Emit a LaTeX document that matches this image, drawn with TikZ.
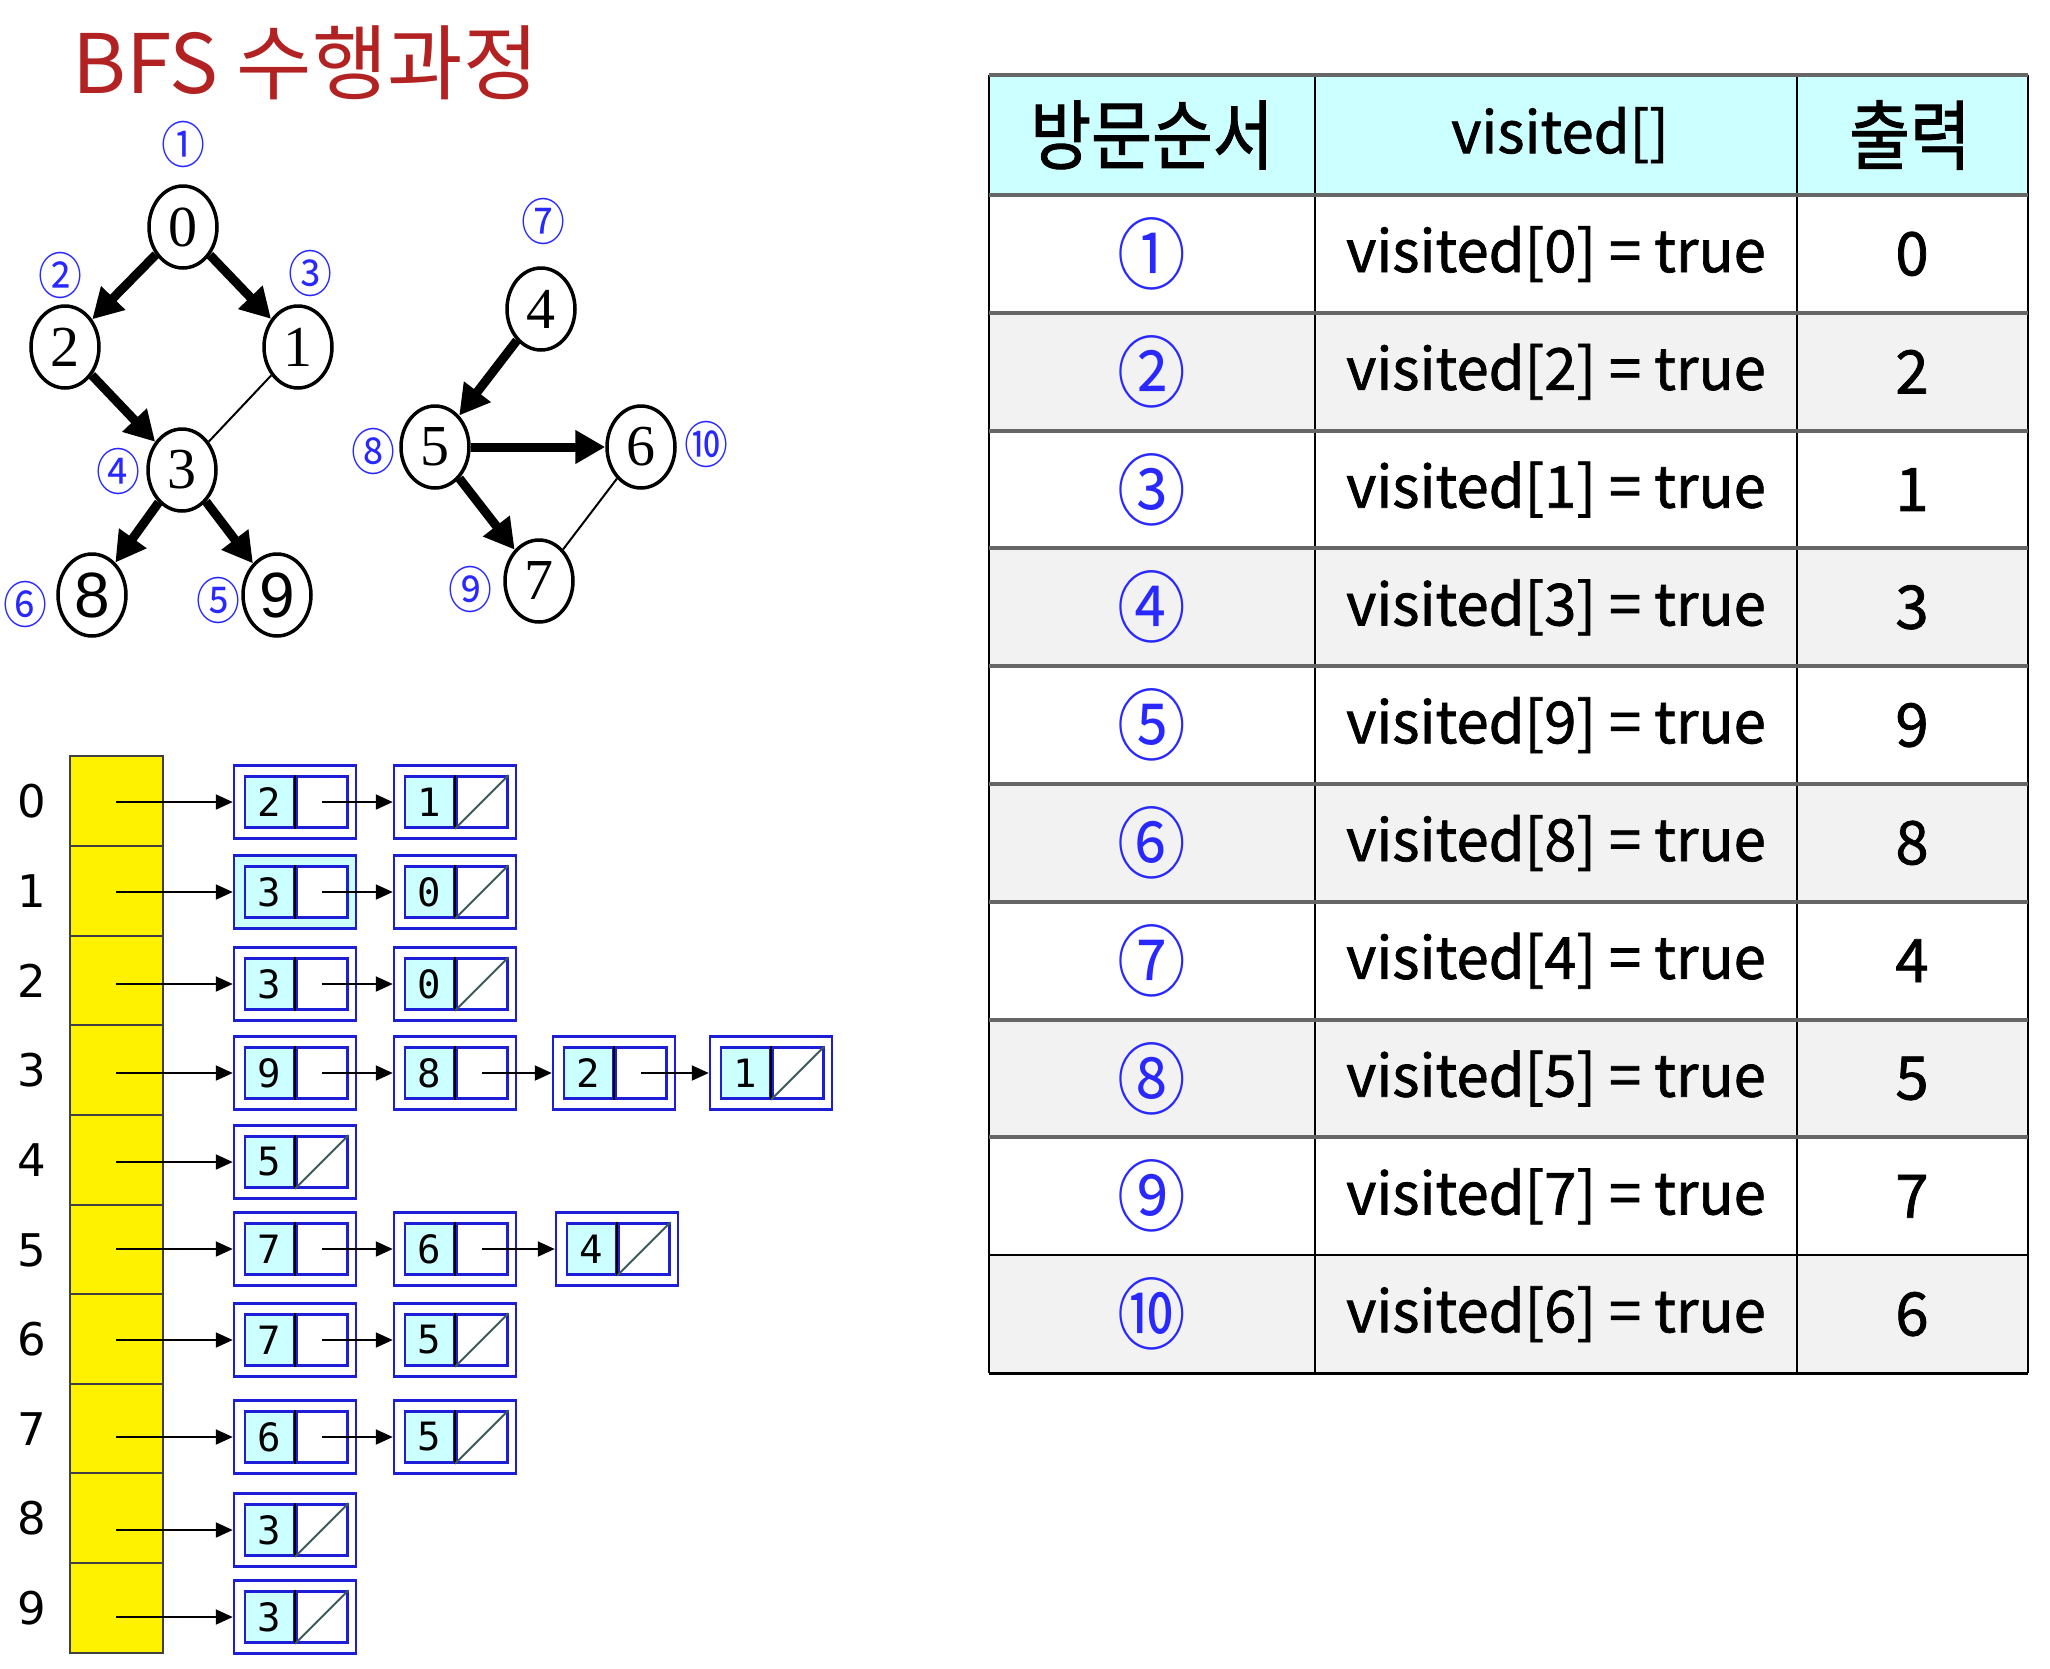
\documentclass[tikz,border=0pt]{standalone}
\usepackage{fontspec}
\setmainfont{Liberation Serif}
\newfontfamily\krfont{Noto Sans CJK KR}
\newfontfamily\tblfont[FakeBold=1.2]{Noto Sans CJK KR}
\newfontfamily\krnarrow[FakeStretch=0.87,FakeBold=1.2]{Noto Sans CJK KR}
\newfontfamily\circfont[FakeStretch=0.88]{Noto Sans CJK KR}
\newfontfamily\boxfont{DejaVu Sans Mono}
\newfontfamily\idxfont{DejaVu Sans}
\newfontfamily\leaffont{Liberation Sans}
\usepackage{tikz}
\usetikzlibrary{arrows.meta,shapes.geometric}
\definecolor{titlered}{RGB}{178,34,34}
\definecolor{ordblue}{RGB}{40,40,255}
\definecolor{hdcyan}{RGB}{204,255,255}
\definecolor{rowgray}{RGB}{242,242,242}
\definecolor{boxblue}{RGB}{30,30,215}
\definecolor{nullgray}{RGB}{60,90,90}
\newcommand{\fsz}[1]{\fontsize{#1}{#1}\selectfont}
\newcommand{\listcell}[5][]{%
  \node[outbox,#1] (#2) at (#3,#4) {};
  \node[valbox,anchor=east] (#2v) at (#2.center) {#5};
  \node[ptrbox,anchor=west] (#2p) at (#2.center) {};
  \draw[black, line width=2pt] (#2p.north west) -- (#2p.south west);}
\newcommand{\nullcell}[5][]{%
  \listcell[#1]{#2}{#3}{#4}{#5}
  \draw[nullgray, line width=2pt] (#2p.south west) -- (#2p.north east);}
\tikzset{
  headline/.style={anchor=base west, text=titlered, inner sep=0, font={\krfont\fsz{82}}},
  vtx/.style={ellipse, draw, line width=3.5pt, minimum width=68, minimum height=82, inner sep=0, font={\fsz{58}}},
  leaf/.style={vtx, font={\leaffont\fsz{64}}},
  tree/.style={line width=9pt, -{Triangle[length=30pt,width=32pt]}},
  back/.style={line width=2pt},
  ord/.style={text=ordblue, inner sep=0, font={\circfont\fsz{50}}},
  headcell/.style={draw=black!75, line width=2pt, fill=yellow, minimum width=93, minimum height=89.7, inner sep=0},
  idx/.style={inner sep=0, font={\idxfont\fsz{45}}},
  outbox/.style={draw=boxblue, line width=2.5pt, fill=white, minimum width=122, minimum height=73, inner sep=0},
  valbox/.style={draw=boxblue, line width=2.5pt, fill=hdcyan, minimum width=49, minimum height=51, inner sep=0, font={\boxfont\fsz{39}}},
  ptrbox/.style={draw=boxblue, line width=2.5pt, fill=white, minimum width=51, minimum height=51, inner sep=0},
  ptr/.style={line width=2pt, -{Triangle[length=17pt,width=15pt]}},
  hd/.style={inner sep=0, font={\tblfont\fsz{58}}},
  tcell/.style={inner sep=0, font={\tblfont\fsz{58}}},
  tord/.style={text=ordblue, inner sep=0, font={\circfont\fsz{78}}},
  outval/.style={inner sep=0, font={\tblfont\fsz{60}}},
  hline/.style={line width=4pt, black!60},
  vline/.style={line width=2pt, black}
}

\begin{document}
\begin{tikzpicture}[x=1pt, y=-1pt]
    \path[use as bounding box] (0,0) rectangle (2050,1668);
    \node[headline] (title) at (72,93) {BFS 수행과정};

    \node[vtx] (v0) at (183,227) {0};
    \node[vtx] (v2) at (65,347) {2};
    \node[vtx] (v1) at (298,347) {1};
    \node[vtx] (v3) at (182,470) {3};
    \node[leaf] (v8) at (92,595) {8};
    \node[leaf] (v9) at (277,595) {9};
    \node[vtx] (v4) at (541,309) {4};
    \node[vtx] (v5) at (435,447) {5};
    \node[vtx] (v6) at (641,447) {6};
    \node[vtx] (v7) at (539,581) {7};

    \draw[tree] (v0) -- (v2);
    \draw[tree] (v0) -- (v1);
    \draw[tree] (v2) -- (v3);
    \draw[back] (v1) -- (v3);
    \draw[tree] (v3) -- (v8);
    \draw[tree] (v3) -- (v9);
    \draw[tree] (v4) -- (v5);
    \draw[tree] (v5) -- (v6);
    \draw[tree] (v5) -- (v7);
    \draw[back] (v6) -- (v7);

    \node[ord] (g1) at (183,144) {①};
    \node[ord] (g2) at (60,275) {②};
    \node[ord] (g3) at (310,273) {③};
    \node[ord] (g4) at (118,471) {④};
    \node[ord] (g5) at (218,600) {⑤};
    \node[ord] (g6) at (25,604) {⑥};
    \node[ord] (g7) at (543,221) {⑦};
    \node[ord] (g8) at (373,451) {⑧};
    \node[ord] (g9) at (470,589) {⑨};
    \node[ord] (g10) at (706,444) {⑩};

    \foreach \k/\y in {0/801,1/891,2/981,3/1070,4/1160,5/1250,6/1339,7/1429,8/1518,9/1608} {
      \node[headcell] (h\k) at (116,\y) {};
      \node[idx] (i\k) at (32,\y) {\k};
    }

    \listcell{l00}{295}{802}{2}
    \nullcell{l01}{455}{802}{1}
    \listcell[fill=hdcyan]{l10}{295}{892}{3}
    \nullcell{l11}{455}{892}{0}
    \listcell{l20}{295}{984}{3}
    \nullcell{l21}{455}{984}{0}
    \listcell{l30}{295}{1073}{9}
    \listcell{l31}{455}{1073}{8}
    \listcell{l32}{614}{1073}{2}
    \nullcell{l33}{771}{1073}{1}
    \nullcell{l40}{295}{1162}{5}
    \listcell{l50}{295}{1249}{7}
    \listcell{l51}{455}{1249}{6}
    \nullcell{l52}{617}{1249}{4}
    \listcell{l60}{295}{1340}{7}
    \nullcell{l61}{455}{1340}{5}
    \listcell{l70}{295}{1437}{6}
    \nullcell{l71}{455}{1437}{5}
    \nullcell{l80}{295}{1530}{3}
    \nullcell{l90}{295}{1617}{3}

    \draw[ptr] (h0.center |- l00) -- (l00);
    \draw[ptr] (h1.center |- l10) -- (l10);
    \draw[ptr] (h2.center |- l20) -- (l20);
    \draw[ptr] (h3.center |- l30) -- (l30);
    \draw[ptr] (h4.center |- l40) -- (l40);
    \draw[ptr] (h5.center |- l50) -- (l50);
    \draw[ptr] (h6.center |- l60) -- (l60);
    \draw[ptr] (h7.center |- l70) -- (l70);
    \draw[ptr] (h8.center |- l80) -- (l80);
    \draw[ptr] (h9.center |- l90) -- (l90);
    \draw[ptr] (l00p.center) -- (l01);
    \draw[ptr] (l10p.center) -- (l11);
    \draw[ptr] (l20p.center) -- (l21);
    \draw[ptr] (l30p.center) -- (l31);
    \draw[ptr] (l31p.center) -- (l32);
    \draw[ptr] (l32p.center) -- (l33);
    \draw[ptr] (l50p.center) -- (l51);
    \draw[ptr] (l51p.center) -- (l52);
    \draw[ptr] (l60p.center) -- (l61);
    \draw[ptr] (l70p.center) -- (l71);

    \fill[hdcyan] (989,75) rectangle (2028,195);
    \foreach \k in {1,3,5,7,9}
      \fill[rowgray] (989,{195+117.8*\k}) rectangle (2028,{195+117.8*(\k+1)});
    \foreach \x in {989,1315,1797,2028}
      \draw[vline] (\x,75) -- (\x,1373);
    \draw[hline] (989,75) -- (2028,75);
    \foreach \k in {0,...,8}
      \draw[hline] (989,{195+117.8*\k}) -- (2028,{195+117.8*\k});
    \draw[line width=2.5pt] (989,1255.2) -- (2028,1255.2);
    \draw[line width=3pt] (989,1373) -- (2028,1373);

    \node[hd, font={\krnarrow\fsz{76}}] (c1) at (1152,135) {방문순서};
    \node[hd] (c2) at (1560,135) {visited[]};
    \node[hd, font={\krnarrow\fsz{76}}] (c3) at (1910,135) {출력};
    \foreach \ordch/\val [count=\k] in {①/0,②/2,③/1,④/3,⑤/9,⑥/8,⑦/4,⑧/5,⑨/7,⑩/6} {
      \node[tord] (o\k) at (1152,{136.1+117.8*\k}) {\ordch};
      \node[tcell] (s\k) at (1556,{136.1+117.8*\k}) {visited[\val] = true};
      \node[outval] (r\k) at (1912,{136.1+117.8*\k}) {\val};
    }
\end{tikzpicture}
\end{document}
